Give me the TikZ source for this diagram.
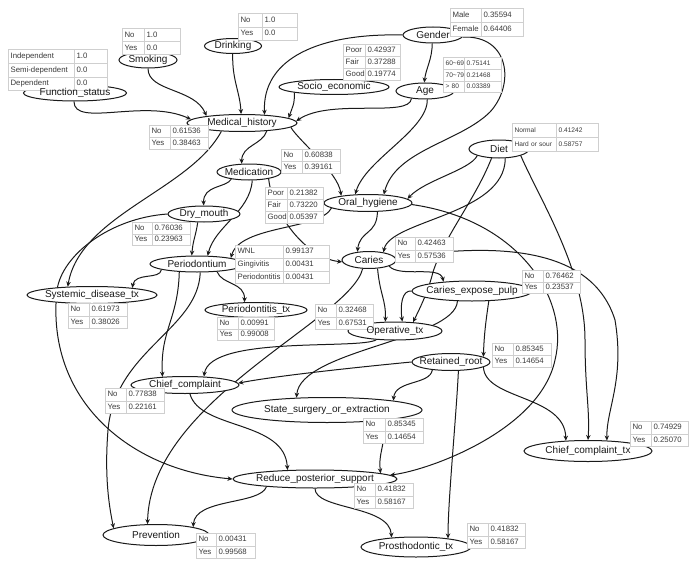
\documentclass[tikz,border=0pt]{standalone}
\usepackage{fontspec}
\setmainfont{Liberation Sans}
\usetikzlibrary{shapes.geometric,matrix,arrows.meta}
\definecolor{edgec}{HTML}{1A1A1A}
\definecolor{tabline}{HTML}{CFCFCF}
\definecolor{tabtext}{HTML}{3A3A3A}
\newcommand\nfont{\fontsize{10}{12}\selectfont}
\newcommand\tfont{\fontsize{7.8}{9}\selectfont}
\newcommand\tfontsm{\fontsize{6.6}{8}\selectfont}
\pgfdeclarelayer{edgelayer}
\pgfdeclarelayer{textlayer}
\pgfsetlayers{edgelayer,main,textlayer}
\tikzset{
  bn/.style 2 args={ellipse, draw=edgec, line width=1pt, fill=white, minimum width=#1, minimum height=#2, inner sep=0pt},
  nt/.style={font=\nfont, text=black!90, inner sep=0pt},
  ed/.style={draw=edgec, line width=1pt, -{Stealth[length=5pt,width=4.5pt]}},
  ptab/.style n args={3}{matrix of nodes, anchor=north west, column sep=-0.8pt, row sep=-0.8pt, inner sep=0pt,
     nodes={draw=tabline, line width=0.8pt, fill=white, font=\tfont, text=tabtext, inner xsep=2pt, inner ysep=0pt, minimum height=#3, text height=5.5pt, text depth=1.5pt, align=left},
     column 1/.style={nodes={text width=#1}}, column 2/.style={nodes={text width=#2}}},
}
\begin{document}
\begin{tikzpicture}[x=1pt,y=-1pt]
\useasboundingbox (0,0) rectangle (698,567);
% ---------------- variable nodes
\node[bn={103pt}{16pt}] (FS) at (75,93) {};
\node[bn={58pt}{16pt}] (Smk) at (148,60) {};
\node[bn={57pt}{15pt}] (Drk) at (233,46) {};
\node[bn={60pt}{16pt}] (Gen) at (433,35) {};
\node[bn={110pt}{15pt}] (Soc) at (334,87) {};
\node[bn={58pt}{16pt}] (Age) at (425,91) {};
\node[bn={110pt}{17pt}] (MH) at (242,123) {};
\node[bn={64pt}{16pt}] (Med) at (249,172) {};
\node[bn={72pt}{16pt}] (DM) at (204,214) {};
\node[bn={88pt}{17pt}] (OH) at (368,203) {};
\node[bn={60pt}{18pt}] (Diet) at (499,149) {};
\node[bn={94pt}{16pt}] (Per) at (197,264) {};
\node[bn={54pt}{17pt}] (Car) at (369,260) {};
\node[bn={130pt}{17pt}] (Sys) at (92,295) {};
\node[bn={102pt}{15pt}] (PerTx) at (256,310) {};
\node[bn={120pt}{20pt}] (CEP) at (472,291) {};
\node[bn={94pt}{18pt}] (Op) at (395,331) {};
\node[bn={78pt}{17pt}] (RR) at (451,362) {};
\node[bn={108pt}{17pt}] (CC) at (185,385) {};
\node[bn={190pt}{25pt}] (SSE) at (327,410) {};
\node[bn={128pt}{21pt}] (CCtx) at (588,451) {};
\node[bn={164pt}{18pt}] (RPS) at (315,479) {};
\node[bn={106pt}{21pt}] (Prev) at (156,535) {};
\node[bn={110pt}{20pt}] (Pros) at (416,547) {};
% ---------------- probability tables
\matrix (tSmk) [ptab={18pt}{32pt}{13pt}] at (122,28) {No & 1.0\\ Yes & 0.0\\};
\matrix (tFS) [ptab={62pt}{29pt}{13.7pt}] at (8,49) {Independent & 1.0\\ Semi-dependent & 0.0\\ Dependent & 0.0\\};
\matrix (tDrk) [ptab={20pt}{31pt}{13.5pt}] at (238,13) {No & 1.0\\ Yes & 0.0\\};
\matrix (tGen) [ptab={27pt}{38pt}{14pt}] at (450,8) {Male & 0.35594\\ Female & 0.64406\\};
\matrix (tSoc) [ptab={18pt}{31pt}{12pt}] at (343,44) {Poor & 0.42937\\ Fair & 0.37288\\ Good & 0.19774\\};
\matrix (tAge) [ptab={17pt}{33pt}{11.7pt}, nodes={font=\tfontsm}] at (443,57) {60\textasciitilde69 & 0.75141\\ 70\textasciitilde79 & 0.21468\\ > 80 & 0.03389\\};
\matrix (tMH) [ptab={17pt}{34pt}{12pt}] at (149,125) {No & 0.61536\\ Yes & 0.38463\\};
\matrix (tMed) [ptab={17pt}{34pt}{12pt}] at (281,149) {No & 0.60838\\ Yes & 0.39161\\};
\matrix (tOH) [ptab={18pt}{32pt}{12pt}] at (265,187) {Poor & 0.21382\\ Fair & 0.73220\\ Good & 0.05397\\};
\matrix (tDiet) [ptab={40pt}{38pt}{14pt}, nodes={font=\tfontsm}] at (512,123) {Normal & 0.41242\\ Hard or sour & 0.58757\\};
\matrix (tDM) [ptab={16pt}{34pt}{11.5pt}] at (132,222) {No & 0.76036\\ Yes & 0.23963\\};
\matrix (tPer) [ptab={44pt}{42pt}{12.7pt}] at (235,245) {WNL & 0.99137\\ Gingivitis & 0.00431\\ Periodontitis & 0.00431\\};
\matrix (tCar) [ptab={16pt}{34pt}{12.5pt}] at (395,237) {No & 0.42463\\ Yes & 0.57536\\};
\matrix (tSys) [ptab={17pt}{34pt}{12.5pt}] at (68,303) {No & 0.61973\\ Yes & 0.38026\\};
\matrix (tPerTx) [ptab={17pt}{32pt}{11.5pt}] at (217,317) {No & 0.00991\\ Yes & 0.99008\\};
\matrix (tCEP) [ptab={17pt}{33pt}{11.5pt}] at (522,270) {No & 0.76462\\ Yes & 0.23537\\};
\matrix (tOp) [ptab={17pt}{33pt}{12.5pt}] at (315,304) {No & 0.32468\\ Yes & 0.67531\\};
\matrix (tRR) [ptab={17pt}{34pt}{12pt}] at (492,343) {No & 0.85345\\ Yes & 0.14654\\};
\matrix (tCC) [ptab={17pt}{34pt}{12.5pt}] at (105,388) {No & 0.77838\\ Yes & 0.22161\\};
\matrix (tSSE) [ptab={18pt}{34pt}{12.5pt}] at (363,418) {No & 0.85345\\ Yes & 0.14654\\};
\matrix (tCCtx) [ptab={17pt}{33pt}{12.5pt}] at (630,421) {No & 0.74929\\ Yes & 0.25070\\};
\matrix (tRPS) [ptab={17pt}{34pt}{12.5pt}] at (354,483) {No & 0.41832\\ Yes & 0.58167\\};
\matrix (tPrev) [ptab={16pt}{35pt}{12.5pt}] at (196,533) {No & 0.00431\\ Yes & 0.99568\\};
\matrix (tPros) [ptab={17pt}{33pt}{12.5pt}] at (467,523) {No & 0.41832\\ Yes & 0.58167\\};
% ---------------- node texts (on top)
\begin{pgfonlayer}{textlayer}
\node[nt] (FSt) at (FS) {Function\_status};
\node[nt] (Smkt) at (Smk) {Smoking};
\node[nt] (Drkt) at (Drk) {Drinking};
\node[nt] (Gent) at (Gen) {Gender};
\node[nt] (Soct) at (Soc) {Socio\_economic};
\node[nt] (Aget) at (Age) {Age};
\node[nt] (MHt) at (MH) {Medical\_history};
\node[nt] (Medt) at (Med) {Medication};
\node[nt] (DMt) at (DM) {Dry\_mouth};
\node[nt] (OHt) at (OH) {Oral\_hygiene};
\node[nt] (Dietnt) at (Diet) {Diet};
\node[nt] (Pert) at (Per) {Periodontium};
\node[nt] (Cart) at (Car) {Caries};
\node[nt] (Syst) at (Sys) {Systemic\_disease\_tx};
\node[nt] (PerTxt) at (PerTx) {Periodontitis\_tx};
\node[nt] (CEPt) at (CEP) {Caries\_expose\_pulp};
\node[nt] (Opt) at (Op) {Operative\_tx};
\node[nt] (RRt) at (RR) {Retained\_root};
\node[nt] (CCt) at (CC) {Chief\_complaint};
\node[nt] (SSEt) at (SSE) {State\_surgery\_or\_extraction};
\node[nt] (CCtxt) at (CCtx) {Chief\_complaint\_tx};
\node[nt] (RPSt) at (RPS) {Reduce\_posterior\_support};
\node[nt] (Prevt) at (Prev) {Prevention};
\node[nt] (Prost) at (Pros) {Prosthodontic\_tx};
\end{pgfonlayer}
% ---------------- connectors
\begin{pgfonlayer}{edgelayer}
\fill[white] (0,0) rectangle (698,567);
\draw[ed] (FS.263) .. controls (74,128) and (145,98) .. (MH.176);
\draw[ed] (Smk.-90) .. controls (148,92) and (195,88) .. (MH.169);
\draw[ed] (Drk.-92) .. controls (232,80) and (240,92) .. (MH.96);
\draw[ed] (Gen.180) .. controls (320,33) and (262,58) .. (MH.20);
\draw[ed] (Soc.-172) .. controls (295,104) and (292,108) .. (MH.6);
\draw[ed] (Age.209) .. controls (410,118) and (330,98) .. (MH.2);
\draw[ed] (Gen.-95) .. controls (432,60) and (426,68) .. (Age.95);
\draw[ed] (Gen.-4) .. controls (510,35) and (515,85) .. (490,112) .. controls (460,142) and (395,150) .. (OH.28);
\draw[ed] (Age.-75) .. controls (428,130) and (365,160) .. (OH.146);
\draw[ed] (MH.-5) .. controls (298,140) and (338,172) .. (OH.165);
\draw[ed] (Diet.197) .. controls (470,170) and (425,180) .. (OH.6);
\draw[ed] (MH.-18) .. controls (262,145) and (242,145) .. (Med.132);
\draw[ed] (Med.202) .. controls (226,188) and (203,185) .. (DM.92);
\draw[ed] (MH.-158) .. controls (190,190) and (80,215) .. (Sys.161);
% Dry_mouth -> Reduce_posterior_support, passing behind Systemic_disease_tx
\draw[ed] (DM.180) .. controls (110,218) and (62,255) .. (57,290) .. controls (45,400) and (130,470) .. (RPS.180);
\draw[ed] (DM.-127) .. controls (196,235) and (193,240) .. (Per.122);
\draw[ed] (Med.-69) .. controls (250,212) and (215,226) .. (Per.38);
\draw[ed] (OH.188) .. controls (320,230) and (240,225) .. (Per.10);
\draw[ed] (Med.-19) .. controls (272,212) and (305,258) .. (Car.184);
\draw[ed] (OH.-43) .. controls (377,235) and (360,230) .. (Car.145);
\draw[ed] (Diet.-56) .. controls (505,215) and (390,220) .. (Car.28);
% Diet -> Operative_tx, passing behind the Caries table and Caries_expose_pulp
\draw[ed] (Diet.-129) .. controls (475,200) and (445,235) .. (433,272) .. controls (428,292) and (420,308) .. (Op.26);
\draw[ed] (Per.189) .. controls (160,280) and (135,272) .. (Sys.10);
\draw[ed] (Per.-21) .. controls (222,285) and (245,282) .. (PerTx.146);
\draw[ed] (Per.-156) .. controls (178,320) and (160,330) .. (CC.160);
\draw[ed] (Per.-69) .. controls (198,330) and (115,350) .. (108,430) .. controls (104,480) and (110,510) .. (Prev.171);
\draw[ed] (Car.-45) .. controls (380,295) and (386,300) .. (Op.136);
\draw[ed] (Car.-126) .. controls (350,320) and (150,400) .. (Prev.128);
\draw[ed] (Car.-17) .. controls (400,278) and (440,265) .. (CEP.162);
\draw[ed] (CEP.180) .. controls (402,290) and (400,305) .. (Op.52);
\draw[ed] (CEP.-31) .. controls (486,320) and (484,335) .. (RR.9);
\draw[ed] (CEP.-145) .. controls (455,340) and (300,350) .. (SSE.158);
\draw[ed] (RR.-157) .. controls (430,385) and (395,380) .. (SSE.8);
\draw[ed] (RR.180) .. controls (380,365) and (280,375) .. (CC.2);
\draw[ed] (RR.-50) .. controls (456,420) and (448,500) .. (Pros.15);
\draw[ed] (RR.-9) .. controls (485,400) and (565,395) .. (CCtx.155);
\draw[ed] (Op.-155) .. controls (360,350) and (210,335) .. (CC.24);
\draw[ed] (CC.-61) .. controls (200,430) and (285,420) .. (RPS.162);
\draw[ed] (SSE.-10) .. controls (385,445) and (378,455) .. (RPS.5);
\draw[ed] (OH.-2) .. controls (520,220) and (570,300) .. (555,360) .. controls (540,430) and (430,470) .. (RPS.3);
\draw[ed] (Car.5) .. controls (480,245) and (590,240) .. (615,320) .. controls (625,380) and (606,410) .. (CCtx.29);
\draw[ed] (Diet.-17) .. controls (540,200) and (585,270) .. (585,340) .. controls (585,390) and (590,410) .. (CCtx.90);
\draw[ed] (RPS.-171) .. controls (260,505) and (195,498) .. (Prev.12);
\draw[ed] (RPS.-90) .. controls (315,510) and (390,505) .. (Pros.159);
\end{pgfonlayer}
\end{tikzpicture}
\end{document}
